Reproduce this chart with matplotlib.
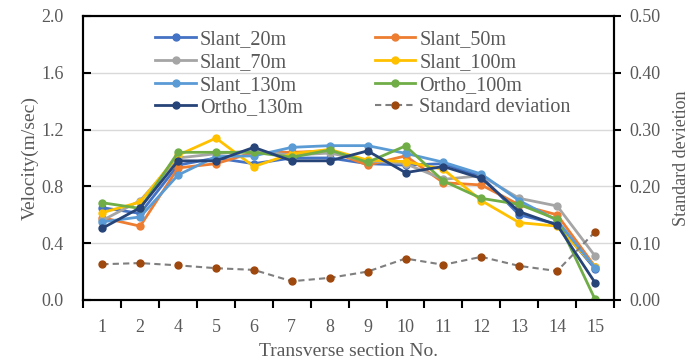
import matplotlib.pyplot as plt
import numpy as np

plt.rcParams['font.family'] = ['Liberation Serif', 'DejaVu Serif']

# data
sections = ['1', '2', '4', '5', '6', '7', '8', '9', '10', '11', '12', '13', '14', '15']

slant_20 = [0.65, 0.61, 0.95, 1.00, 0.96, 1.00, 1.00, 0.96, 0.95, 0.96, 0.87, 0.60, 0.535, 0.22]
slant_50 = [0.58, 0.52, 0.93, 0.96, 1.04, 1.04, 1.05, 0.95, 1.015, 0.826, 0.81, 0.67, 0.60, 0.235]
slant_70 = [0.56, 0.70, 1.00, 1.03, 1.05, 1.02, 1.035, 0.98, 0.96, 0.85, 0.875, 0.716, 0.662, 0.31]
slant_100 = [0.615, 0.69, 1.02, 1.14, 0.94, 1.03, 1.06, 0.985, 0.975, 0.92, 0.70, 0.545, 0.52, 0.235]
slant_130 = [0.55, 0.585, 0.88, 1.01, 1.015, 1.075, 1.087, 1.087, 1.033, 0.97, 0.887, 0.70, 0.56, 0.228]
ortho_100 = [0.685, 0.645, 1.04, 1.04, 1.04, 1.005, 1.056, 0.97, 1.085, 0.838, 0.716, 0.673, 0.568, 0.005]
ortho_130 = [0.505, 0.65, 0.98, 0.98, 1.075, 0.98, 0.98, 1.05, 0.897, 0.94, 0.857, 0.622, 0.528, 0.122]
std_dev = [0.063, 0.065, 0.061, 0.056, 0.053, 0.033, 0.039, 0.05, 0.073, 0.062, 0.076, 0.06, 0.051, 0.12]

series = [
    ('Slant_20m', slant_20, '#4472C4'),
    ('Slant_50m', slant_50, '#ED7D31'),
    ('Slant_70m', slant_70, '#A5A5A5'),
    ('Slant_100m', slant_100, '#FFC000'),
    ('Slant_130m', slant_130, '#5B9BD5'),
    ('Ortho_100m', ortho_100, '#70AD47'),
    ('Ortho_130m', ortho_130, '#264478'),
]

label_color = '#595959'
x = np.arange(len(sections))

fig = plt.figure(figsize=(6.93, 3.62), dpi=100)
ax = fig.add_axes([83.3 / 693, 62 / 362, 530.7 / 693, 284 / 362])
ax2 = ax.twinx()

handles = {}
for name, vals, color in series:
    line, = ax.plot(x, vals, color=color, lw=2.0, marker='o', ms=5, label=name, zorder=3)
    handles[name] = line

sd_line, = ax2.plot(x, std_dev, color='#7F7F7F', lw=1.5, ls=(0, (3, 2)), marker='o', ms=5,
                    mfc='#9E480E', mec='#9E480E', label='Standard deviation')
handles['Standard deviation'] = sd_line

ax.set_xlim(-0.5, len(sections) - 0.5)
ax.set_ylim(0, 2.0)
ax2.set_ylim(0, 0.5)
ax.set_yticks(np.arange(0, 2.01, 0.4))
ax.set_yticklabels([f'{v:.1f}' for v in np.arange(0, 2.01, 0.4)])
ax2.set_yticks(np.arange(0, 0.51, 0.1))
ax2.set_yticklabels([f'{v:.2f}' for v in np.arange(0, 0.51, 0.1)])

# ticks sit between categories, labels in the middle
ax.set_xticks(np.arange(-0.5, len(sections), 1), minor=False)
ax.set_xticklabels([])
ax.set_xticks(x, minor=True)
ax.set_xticklabels(sections, minor=True)
ax.tick_params(axis='x', which='major', direction='out', length=6, width=1.5, color='black')
ax.tick_params(axis='x', which='minor', length=0, labelsize=13, labelcolor=label_color, pad=14)
ax.tick_params(axis='y', direction='in', length=6, width=1.5, labelsize=13, labelcolor=label_color, pad=14)
ax2.tick_params(axis='y', direction='out', length=5, width=1.5, labelsize=13, labelcolor=label_color, pad=6)

ax.grid(axis='y', color='#D9D9D9', lw=1)
ax.set_axisbelow(True)
for sp in ax.spines.values():
    sp.set_linewidth(1.5)
for sp in ax2.spines.values():
    sp.set_linewidth(1.5)

ax.set_xlabel('Transverse section No.', fontsize=14, color=label_color, labelpad=5)
ax.set_ylabel('Velocity(m/sec)', fontsize=14, color=label_color, labelpad=2)
ax2.set_ylabel('Standard devietion', fontsize=13, color=label_color, labelpad=9)

order = ['Slant_20m', 'Slant_70m', 'Slant_130m', 'Ortho_130m',
         'Slant_50m', 'Slant_100m', 'Ortho_100m', 'Standard deviation']
ax2.legend([handles[k] for k in order], order, ncol=2, loc='upper left',
           bbox_to_anchor=(58 / 530.7, 1.0), frameon=False, fontsize=14.5,
           handlelength=2.0, handletextpad=0.2, columnspacing=3.6,
           labelspacing=0.18, labelcolor=label_color, borderaxespad=0.3)

fig.savefig('out.png', dpi=100)
